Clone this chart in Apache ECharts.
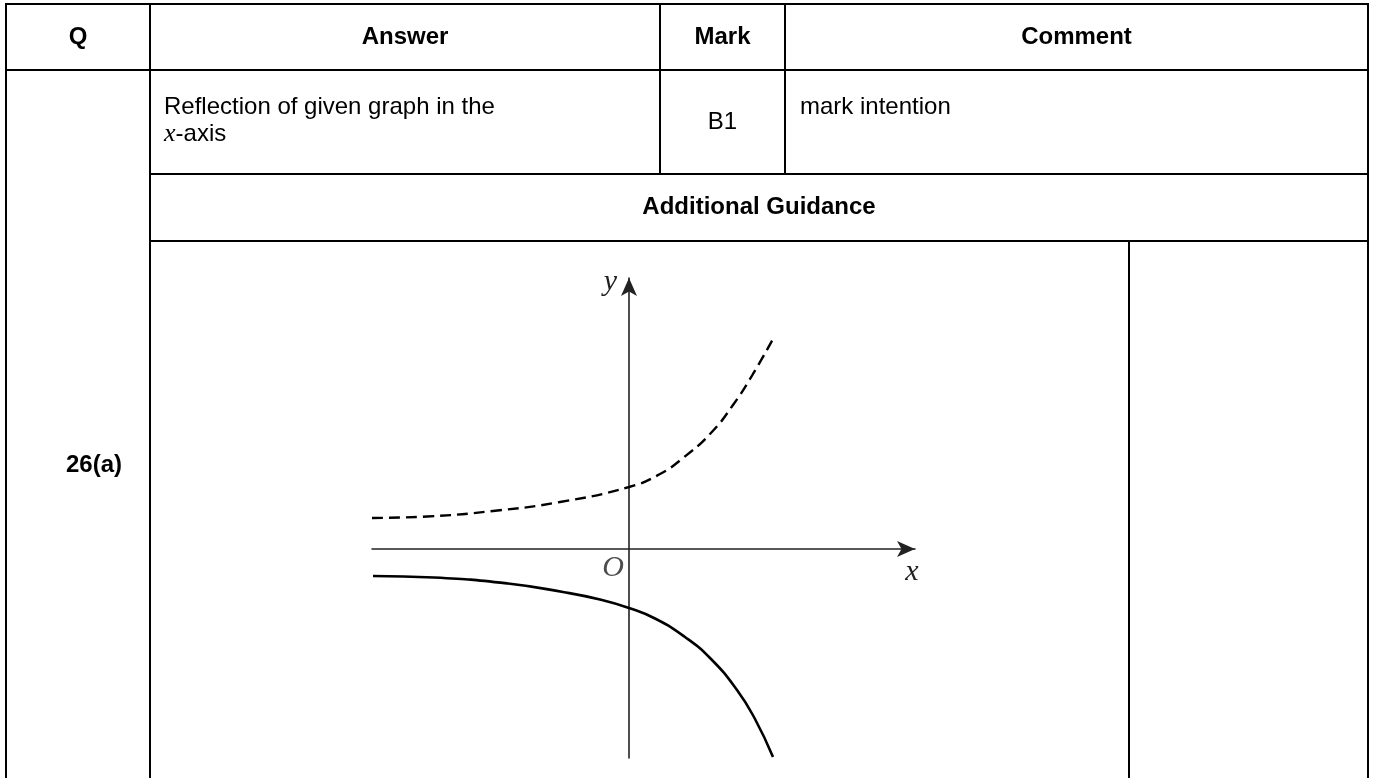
<!DOCTYPE html>
<html>
<head>
<meta charset="utf-8">
<title>26(a)</title>
<script src="https://cdn.jsdelivr.net/npm/echarts@6/dist/echarts.min.js"></script>
<style>
    html, body { margin: 0; padding: 0; background: #fff; }
    #main { width: 1375px; height: 778px; }
</style>
</head>
<body>
<div id="main"></div>
<script>
// table texts
var headers = ['Q', 'Answer', 'Mark', 'Comment'];
var question = '26(a)';
var answerLines = ['Reflection of given graph in the', '{i|x}-axis'];
var mark = 'B1';
var comment = 'mark intention';
var guidanceTitle = 'Additional Guidance';

// sketch curves, [x, y] in sketch units
var givenCurve = [
    [-5.14, 0.62], [-4.04, 0.65], [-2.72, 0.76], [-1.38, 0.94], [0, 1.24],
    [0.62, 1.50], [1.08, 1.82], [1.62, 2.30], [2.08, 2.88], [2.48, 3.50], [2.90, 4.24]
];
var reflectedCurve = [
    [-5.12, -0.54], [-3.90, -0.57], [-2.42, -0.69], [-1.32, -0.86], [-0.58, -1.01], [0, -1.18],
    [0.54, -1.40], [1.12, -1.76], [1.64, -2.20], [2.16, -2.82], [2.52, -3.40], [2.88, -4.16]
];
var origin = [[0, 0]];

// sketch axis ranges
var xRange = [-5.14, 5.72];
var yRange = [-4.18, 5.42];

// table layout (px)
var colX = [6, 150, 660, 785, 1368];
var rowY = [4, 70, 174, 241, 778];
var graphCellRight = 1129;

var FONT = '"Liberation Sans", Arial, sans-serif';
var SERIF = '"Liberation Serif", "Times New Roman", serif';
var SIZE = 24;

function hline(y, x1, x2) {
    return { type: 'line', shape: { x1: x1, y1: y, x2: x2, y2: y }, style: { stroke: '#000', lineWidth: 2 }, z: 10 };
}
function vline(x, y1, y2) {
    return { type: 'line', shape: { x1: x, y1: y1, x2: x, y2: y2 }, style: { stroke: '#000', lineWidth: 2 }, z: 10 };
}
function text(str, x, y, align, bold, extra) {
    var style = {
        text: str, x: x, y: y,
        fontFamily: FONT, fontSize: SIZE, fontWeight: bold ? 'bold' : 'normal',
        fill: '#000', align: align, verticalAlign: 'middle'
    };
    if (extra) {
        for (var k in extra) style[k] = extra[k];
    }
    return { type: 'text', style: style, z: 10 };
}

var graphics = [];
// borders
graphics.push(hline(rowY[0], colX[0] - 1, colX[4] + 1));
graphics.push(hline(rowY[1], colX[0] - 1, colX[4] + 1));
graphics.push(hline(rowY[2], colX[1], colX[4] + 1));
graphics.push(hline(rowY[3], colX[1], colX[4] + 1));
graphics.push(vline(colX[0], rowY[0], rowY[4]));
graphics.push(vline(colX[1], rowY[0], rowY[4]));
graphics.push(vline(colX[2], rowY[0], rowY[2]));
graphics.push(vline(colX[3], rowY[0], rowY[2]));
graphics.push(vline(colX[4], rowY[0], rowY[4]));
graphics.push(vline(graphCellRight, rowY[3], rowY[4]));

// header row
var headMid = (rowY[0] + rowY[1]) / 2;
for (var i = 0; i < headers.length; i++) {
    graphics.push(text(headers[i], (colX[i] + colX[i + 1]) / 2, headMid, 'center', true));
}
// answer row
graphics.push(text(answerLines[0], colX[1] + 14, 107, 'left', false));
graphics.push(text(answerLines[1], colX[1] + 14, 134, 'left', false, {
    rich: { i: { fontFamily: SERIF, fontStyle: 'italic', fontSize: SIZE + 2 } }
}));
graphics.push(text(mark, (colX[2] + colX[3]) / 2, (rowY[1] + rowY[2]) / 2, 'center', false));
graphics.push(text(comment, colX[3] + 15, 107, 'left', false));
// guidance
graphics.push(text(guidanceTitle, (colX[1] + colX[4]) / 2, (rowY[2] + rowY[3]) / 2, 'center', true));
graphics.push(text(question, 66, 465, 'left', true));

var axisLine = {
    onZero: true,
    symbol: ['none', 'arrow'],
    symbolSize: [12, 18],
    lineStyle: { color: '#222', width: 1.6 }
};

var chart = echarts.init(document.getElementById('main'));
chart.setOption({
    animation: false,
    backgroundColor: '#fff',
    grid: {
        left: 372, right: 1375 - 915, top: 278, bottom: 778 - 758,
        outerBoundsMode: 'none'
    },
    xAxis: {
        type: 'value',
        min: xRange[0], max: xRange[1],
        axisLine: axisLine,
        axisTick: { show: false },
        axisLabel: { show: false },
        splitLine: { show: false },
        name: 'x',
        nameLocation: 'end',
        nameGap: -3,
        nameTextStyle: {
            fontFamily: SERIF, fontStyle: 'italic', fontSize: 30, color: '#222',
            align: 'center', verticalAlign: 'top', padding: [8, 0, 0, 0]
        }
    },
    yAxis: {
        type: 'value',
        min: yRange[0], max: yRange[1],
        axisLine: axisLine,
        axisTick: { show: false },
        axisLabel: { show: false },
        splitLine: { show: false },
        name: 'y',
        nameLocation: 'end',
        nameGap: -4,
        nameTextStyle: {
            fontFamily: SERIF, fontStyle: 'italic', fontSize: 30, color: '#222',
            align: 'right', verticalAlign: 'middle', padding: [0, 12, 0, 0]
        }
    },
    series: [
        {
            name: 'given',
            type: 'line',
            smooth: true,
            showSymbol: false,
            data: givenCurve,
            lineStyle: { color: '#000', width: 2.4, type: [11, 6] }
        },
        {
            name: 'reflection',
            type: 'line',
            smooth: true,
            showSymbol: false,
            data: reflectedCurve,
            lineStyle: { color: '#000', width: 2.6 }
        },
        {
            name: 'origin',
            type: 'scatter',
            symbolSize: 0,
            data: origin,
            silent: true,
            label: {
                show: true,
                formatter: 'O',
                position: [-5, 4],
                align: 'right',
                verticalAlign: 'top',
                fontFamily: SERIF, fontStyle: 'italic', fontSize: 30, color: '#222'
            }
        }
    ],
    graphic: graphics
});
</script>
</body>
</html>
